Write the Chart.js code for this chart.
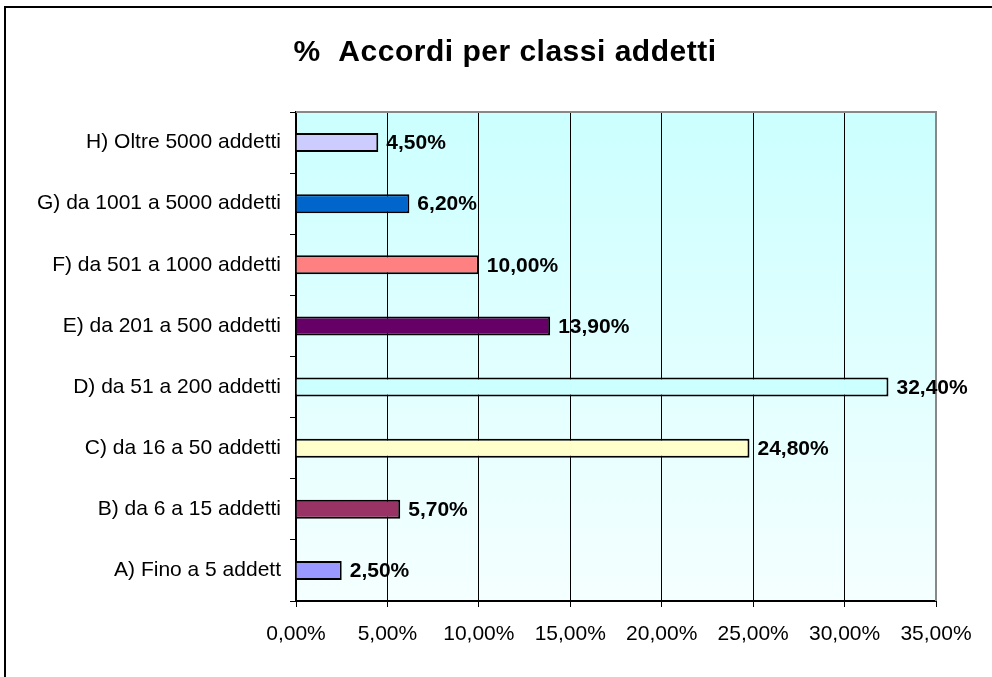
<!DOCTYPE html>
<html lang="it">
<head>
    <meta charset="UTF-8">
    <title>% Accordi per classi addetti</title>
    <script src="https://cdn.jsdelivr.net/npm/chart.js"></script>
    <style>
        * { margin: 0; padding: 0; box-sizing: border-box; }
        body { background: #fff; width: 992px; height: 677px; overflow: hidden; position: relative; }
        .frame {
            position: absolute; left: 4px; top: 6px; width: 1100px; height: 800px;
            border-top: 2px solid #000; border-left: 2px solid #000;
        }
        .wrap { position: absolute; left: 0; top: 0; width: 992px; height: 677px; }
    </style>
</head>
<body>
    <div class="frame"></div>
    <div class="wrap"><canvas id="chart" width="992" height="677"></canvas></div>
    <script>
        const titolo = "%  Accordi per classi addetti";
        const classi = ["A) Fino a 5 addett", "B) da 6 a 15 addetti", "C) da 16 a 50 addetti", "D) da 51 a 200 addetti",
                        "E) da 201 a 500 addetti", "F) da 501 a 1000 addetti", "G) da 1001 a 5000 addetti", "H) Oltre 5000 addetti"];
        const percentuali = [2.5, 5.7, 24.8, 32.4, 13.9, 10.0, 6.2, 4.5];
        const colori = ["#9999ff", "#993366", "#ffffcc", "#ccffff", "#660066", "#ff8080", "#0066cc", "#ccccff"];
        const tickX = [0, 5, 10, 15, 20, 25, 30, 35];

        const fmt = v => v.toFixed(2).replace(".", ",") + "%";
        const FONT = "'Liberation Sans', Arial, sans-serif";

        // sfondo sfumato, bordo grigio, etichette dei valori e titolo
        const plotArea = {
            id: "plotArea",
            beforeDraw(chart) {
                const { ctx, chartArea: a } = chart;
                const g = ctx.createLinearGradient(0, a.top, 0, a.bottom);
                g.addColorStop(0, "#ccffff");
                g.addColorStop(1, "#f5ffff");
                ctx.save();
                ctx.fillStyle = g;
                ctx.fillRect(a.left, a.top, a.right - a.left, a.bottom - a.top);
                ctx.restore();
            },
            beforeDatasetsDraw(chart) {
                const { ctx, chartArea: a } = chart;
                ctx.save();
                ctx.strokeStyle = "#888";
                ctx.lineWidth = 2;
                ctx.beginPath();
                ctx.moveTo(a.left, a.top);
                ctx.lineTo(a.right, a.top);
                ctx.lineTo(a.right, a.bottom);
                ctx.stroke();
                ctx.restore();
            },
            afterDatasetsDraw(chart) {
                const { ctx } = chart;
                const meta = chart.getDatasetMeta(0);
                ctx.save();
                ctx.font = "bold 21px " + FONT;
                ctx.fillStyle = "#000";
                ctx.textBaseline = "middle";
                ctx.textAlign = "left";
                meta.data.forEach((bar, i) => {
                    ctx.fillText(fmt(percentuali[i]), bar.x + 8, bar.y + 1);
                });
                // titolo
                ctx.font = "bold 30px " + FONT;
                ctx.letterSpacing = "0.5px";
                ctx.textAlign = "center";
                ctx.textBaseline = "alphabetic";
                ctx.fillText(titolo, 505, 61);
                ctx.restore();
            }
        };

        new Chart(document.getElementById("chart"), {
            type: "bar",
            data: {
                labels: classi,
                datasets: [{
                    data: percentuali,
                    backgroundColor: colori,
                    borderColor: "#000",
                    borderWidth: 2,
                    barPercentage: 0.31,
                    categoryPercentage: 1
                }]
            },
            options: {
                indexAxis: "y",
                responsive: false,
                animation: false,
                layout: { padding: { top: 112, right: 56, left: 0, bottom: 0 } },
                plugins: {
                    legend: { display: false },
                    tooltip: { enabled: false }
                },
                scales: {
                    x: {
                        min: 0,
                        max: 35,
                        afterBuildTicks: s => { s.ticks = tickX.map(v => ({ value: v })); },
                        afterFit: s => { s.height = 76; },
                        grid: { color: "#000", lineWidth: 1, tickLength: 6 },
                        border: { color: "#000", width: 2 },
                        ticks: {
                            callback: v => fmt(v),
                            color: "#000",
                            padding: 15,
                            maxRotation: 0,
                            autoSkip: false,
                            font: { family: FONT, size: 21 }
                        }
                    },
                    y: {
                        reverse: true,
                        afterFit: s => { s.width = 296; },
                        grid: { drawOnChartArea: false, color: "#000", tickLength: 6, offset: true },
                        border: { color: "#000", width: 2 },
                        ticks: {
                            color: "#000",
                            padding: 9,
                            autoSkip: false,
                            font: { family: FONT, size: 21 }
                        }
                    }
                }
            },
            plugins: [plotArea]
        });
    </script>
</body>
</html>
